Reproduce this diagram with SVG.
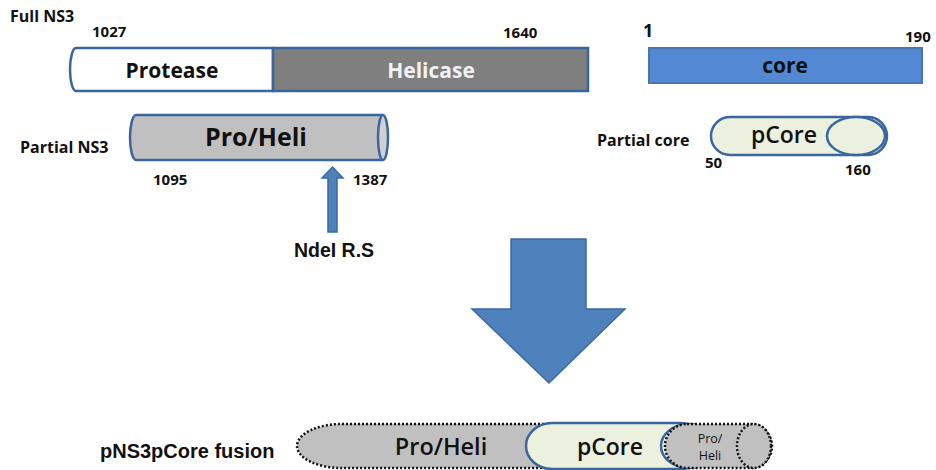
<svg xmlns="http://www.w3.org/2000/svg" width="936" height="470" viewBox="0 0 936 470">
<style>
text{font-family:"Open Sans","Liberation Sans",sans-serif;fill:#111}
.b{font-weight:bold}
.lbl{font-size:16px;font-weight:bold}
.num{font-size:15px;font-weight:bold}
.blue{stroke:#3a66a0;stroke-width:2.5}
.dot{stroke:#111;stroke-width:2.5;stroke-dasharray:2 2;fill:#c0c0c0}
</style>
<rect width="936" height="470" fill="#fff"/>
<g id="full-ns3">
<text x="10" y="22" class="lbl">Full NS3</text>
<text x="92" y="37" class="num">1027</text>
<text x="503" y="38" class="num">1640</text>
<path d="M273,48 H76 A6,21.5 0 0 0 76,91 H273 Z" fill="#fff" class="blue"/>
<rect x="273" y="48" width="315" height="43" fill="#7f7f7f" class="blue"/>
<text x="172" y="78" text-anchor="middle" class="b" font-size="21">Protease</text>
<text x="431" y="78" text-anchor="middle" class="b" font-size="21" style="fill:#f2f2f2">Helicase</text>
</g>
<g id="core">
<text x="643" y="37" class="b" font-size="18">1</text>
<text x="905" y="42" class="num">190</text>
<rect x="649" y="48" width="273" height="35" fill="#5289d2" stroke="#4a76b0" stroke-width="2"/>
<text x="785" y="73" text-anchor="middle" class="b" font-size="21">core</text>
</g>
<g id="partial-ns3">
<text x="20" y="153" class="lbl">Partial NS3</text>
<path d="M383,115 H136 A6,22.5 0 0 0 136,160 H383" fill="#c0c0c0" class="blue"/>
<ellipse cx="383" cy="137.5" rx="5" ry="22.5" fill="#d0d0d0" class="blue"/>
<text x="256" y="146" text-anchor="middle" class="b" font-size="25">Pro/Heli</text>
<text x="153" y="185" class="num">1095</text>
<text x="353" y="185" class="num">1387</text>
</g>
<g id="ndei">
<polygon points="328,232 337,232 337,178 343,178 332.5,167 322,178 328,178" fill="#4f81bd" stroke="#3d6a9e" stroke-width="1.5"/>
<text x="334" y="257" text-anchor="middle" font-family="Liberation Sans, Arial, sans-serif" style="font-family:'Liberation Sans',Arial,sans-serif" class="b" font-size="19.5">NdeI R.S</text>
</g>
<g id="partial-core">
<text x="597" y="146" class="lbl">Partial core</text>
<rect x="711" y="117" width="176" height="38" rx="19" fill="#ebf1de" class="blue"/>
<ellipse cx="856" cy="136" rx="29" ry="19" fill="#ebf1de" class="blue"/>
<text x="784" y="143" text-anchor="middle" font-size="23" font-weight="600">pCore</text>
<text x="705" y="168" class="num">50</text>
<text x="845" y="175" class="num">160</text>
</g>
<g id="big-arrow">
<polygon points="511,239 586,239 586,309 625,309 549,383 472,309 511,309" fill="#4f81bd" stroke="#3d6a9e" stroke-width="1.5"/>
</g>
<g id="fusion">
<text x="100" y="458" font-size="20" font-weight="bold" style="font-family:'Liberation Sans',Arial,sans-serif">pNS3pCore fusion</text>
<rect x="297" y="424" width="410" height="44" rx="45" ry="22" class="dot"/>
<rect x="526" y="423" width="180" height="46" rx="26" ry="23" fill="#ebf1de" class="blue"/>
<ellipse cx="689" cy="446" rx="28" ry="22" fill="#ebf1de" class="blue"/>
<rect x="665" y="424" width="107" height="44" rx="22" ry="22" class="dot"/>
<ellipse cx="754" cy="446" rx="17" ry="22" class="dot"/>
<text x="441" y="455" text-anchor="middle" font-size="23.5" font-weight="600">Pro/Heli</text>
<text x="610" y="455" text-anchor="middle" font-size="23" font-weight="600">pCore</text>
<text x="710" y="443" text-anchor="middle" font-size="12.5">Pro/</text>
<text x="710" y="460" text-anchor="middle" font-size="12.5">Heli</text>
</g>
</svg>
